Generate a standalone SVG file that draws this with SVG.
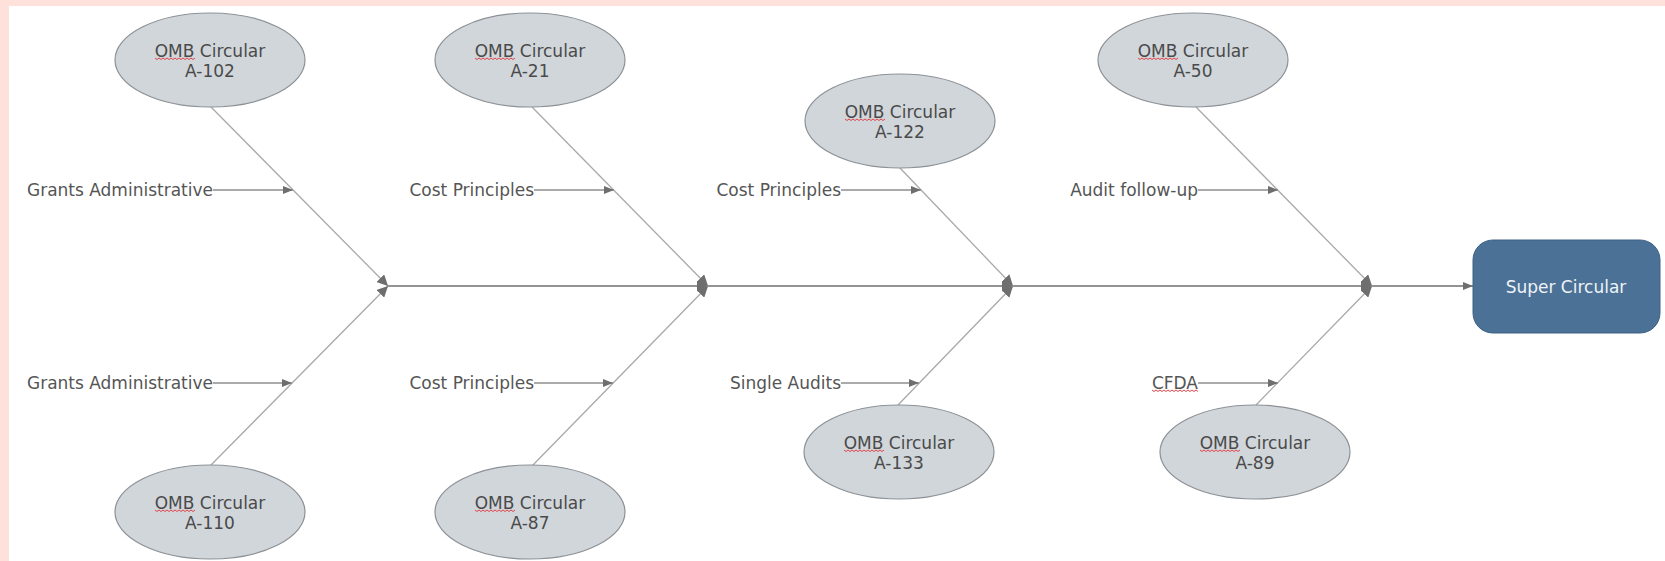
<svg xmlns="http://www.w3.org/2000/svg" width="1665" height="561" viewBox="0 0 1665 561">
  <style>
    .bubble ellipse { fill: #d1d6db; stroke: #8c9196; stroke-width: 1.2; }
    .bubble text { font-family: "DejaVu Sans", Verdana, sans-serif; font-size: 17px; fill: #4a4a4a; text-anchor: middle; }
    .cause text { font-family: "DejaVu Sans", Verdana, sans-serif; font-size: 17px; fill: #555555; text-anchor: end; }
    .bone { stroke: #a9a9a9; stroke-width: 1.3; fill: none; }
    .rib { stroke: #8e8e8e; stroke-width: 1.5; fill: none; }
    .spine { stroke: #939393; stroke-width: 2.2; fill: none; }
    .squiggle { stroke: #e0454a; stroke-width: 1; fill: none; }
    .result rect { fill: #4b7196; stroke: #3f6285; stroke-width: 1; }
    .result text { font-family: "DejaVu Sans", Verdana, sans-serif; font-size: 17px; fill: #eef3f8; text-anchor: middle; }
  </style>
  <defs>
    <marker id="head" viewBox="0 0 10 8" refX="10" refY="4" markerWidth="10" markerHeight="8" markerUnits="userSpaceOnUse" orient="auto">
      <path d="M0 0 L10 4 L0 8 Z" fill="#6e6e6e"/>
    </marker>
    <marker id="head-lg" viewBox="0 0 10 10" refX="10" refY="5" markerWidth="11" markerHeight="11" markerUnits="userSpaceOnUse" orient="auto">
      <path d="M0 0 L10 5 L0 10 Z" fill="#6e6e6e"/>
    </marker>
    <!-- spell-check style wavy underline, 40px and 46px long -->
    <path id="wave40" class="squiggle" d="M0 0 l2 1.5 2 -1.5 2 1.5 2 -1.5 2 1.5 2 -1.5 2 1.5 2 -1.5 2 1.5 2 -1.5 2 1.5 2 -1.5 2 1.5 2 -1.5 2 1.5 2 -1.5 2 1.5 2 -1.5 2 1.5 2 -1.5"/>
    <path id="wave46" class="squiggle" d="M0 0 l2 1.5 2 -1.5 2 1.5 2 -1.5 2 1.5 2 -1.5 2 1.5 2 -1.5 2 1.5 2 -1.5 2 1.5 2 -1.5 2 1.5 2 -1.5 2 1.5 2 -1.5 2 1.5 2 -1.5 2 1.5 2 -1.5 2 1.5 2 -1.5 2 1.5"/>
  </defs>

  <!-- page frame -->
  <rect x="0" y="0" width="1665" height="561" fill="#fde1da"/>
  <rect x="9" y="6" width="1656" height="555" fill="#ffffff"/>

  <!-- connectors -->
  <g id="connectors">
    <!-- main spine -->
    <line class="spine" x1="388" y1="286" x2="708" y2="286" marker-end="url(#head-lg)"/>
    <line class="spine" x1="708" y1="286" x2="1013" y2="286" marker-end="url(#head-lg)"/>
    <line class="spine" x1="1013" y1="286" x2="1372" y2="286" marker-end="url(#head-lg)"/>
    <line class="spine" x1="1372" y1="286" x2="1473" y2="286" marker-end="url(#head)"/>
    <!-- bones -->
    <line class="bone" x1="211" y1="107" x2="388" y2="286" marker-end="url(#head-lg)"/>
    <line class="bone" x1="211" y1="465" x2="388" y2="286" marker-end="url(#head-lg)"/>
    <line class="bone" x1="532" y1="107" x2="708" y2="286" marker-end="url(#head-lg)"/>
    <line class="bone" x1="532" y1="466" x2="708" y2="286" marker-end="url(#head-lg)"/>
    <line class="bone" x1="900" y1="168" x2="1013" y2="286" marker-end="url(#head-lg)"/>
    <line class="bone" x1="898" y1="405" x2="1013" y2="286" marker-end="url(#head-lg)"/>
    <line class="bone" x1="1196" y1="107" x2="1372" y2="286" marker-end="url(#head-lg)"/>
    <line class="bone" x1="1256" y1="405" x2="1372" y2="286" marker-end="url(#head-lg)"/>
    <!-- cause ribs -->
    <line class="rib" x1="213" y1="190" x2="293" y2="190" marker-end="url(#head)"/>
    <line class="rib" x1="213" y1="383" x2="292" y2="383" marker-end="url(#head)"/>
    <line class="rib" x1="534" y1="190" x2="614" y2="190" marker-end="url(#head)"/>
    <line class="rib" x1="534" y1="383" x2="613" y2="383" marker-end="url(#head)"/>
    <line class="rib" x1="841" y1="190" x2="921" y2="190" marker-end="url(#head)"/>
    <line class="rib" x1="841" y1="383" x2="919" y2="383" marker-end="url(#head)"/>
    <line class="rib" x1="1198" y1="190" x2="1278" y2="190" marker-end="url(#head)"/>
    <line class="rib" x1="1198" y1="383" x2="1278" y2="383" marker-end="url(#head)"/>
  </g>

  <!-- circular bubbles -->
  <g id="a102" class="bubble">
    <ellipse cx="210" cy="60" rx="95" ry="47"/>
    <text x="210" y="57">OMB Circular</text>
    <text x="210" y="77">A-102</text>
    <use href="#wave40" x="155" y="58"/>
  </g>
  <g id="a110" class="bubble">
    <ellipse cx="210" cy="512" rx="95" ry="47"/>
    <text x="210" y="509">OMB Circular</text>
    <text x="210" y="529">A-110</text>
    <use href="#wave40" x="155" y="510"/>
  </g>
  <g id="a21" class="bubble">
    <ellipse cx="530" cy="60" rx="95" ry="47"/>
    <text x="530" y="57">OMB Circular</text>
    <text x="530" y="77">A-21</text>
    <use href="#wave40" x="475" y="58"/>
  </g>
  <g id="a87" class="bubble">
    <ellipse cx="530" cy="512" rx="95" ry="47"/>
    <text x="530" y="509">OMB Circular</text>
    <text x="530" y="529">A-87</text>
    <use href="#wave40" x="475" y="510"/>
  </g>
  <g id="a122" class="bubble">
    <ellipse cx="900" cy="121" rx="95" ry="47"/>
    <text x="900" y="118">OMB Circular</text>
    <text x="900" y="138">A-122</text>
    <use href="#wave40" x="845" y="119"/>
  </g>
  <g id="a133" class="bubble">
    <ellipse cx="899" cy="452" rx="95" ry="47"/>
    <text x="899" y="449">OMB Circular</text>
    <text x="899" y="469">A-133</text>
    <use href="#wave40" x="844" y="450"/>
  </g>
  <g id="a50" class="bubble">
    <ellipse cx="1193" cy="60" rx="95" ry="47"/>
    <text x="1193" y="57">OMB Circular</text>
    <text x="1193" y="77">A-50</text>
    <use href="#wave40" x="1138" y="58"/>
  </g>
  <g id="a89" class="bubble">
    <ellipse cx="1255" cy="452" rx="95" ry="47"/>
    <text x="1255" y="449">OMB Circular</text>
    <text x="1255" y="469">A-89</text>
    <use href="#wave40" x="1200" y="450"/>
  </g>

  <!-- cause labels -->
  <g id="cause-grants-top" class="cause"><text x="213" y="196">Grants Administrative</text></g>
  <g id="cause-grants-bottom" class="cause"><text x="213" y="389">Grants Administrative</text></g>
  <g id="cause-cost-1" class="cause"><text x="534" y="196">Cost Principles</text></g>
  <g id="cause-cost-2" class="cause"><text x="534" y="389">Cost Principles</text></g>
  <g id="cause-cost-3" class="cause"><text x="841" y="196">Cost Principles</text></g>
  <g id="cause-single-audits" class="cause"><text x="841" y="389">Single Audits</text></g>
  <g id="cause-audit-followup" class="cause"><text x="1198" y="196">Audit follow-up</text></g>
  <g id="cause-cfda" class="cause">
    <text x="1198" y="389">CFDA</text>
    <use href="#wave46" x="1152" y="390"/>
  </g>

  <!-- outcome -->
  <g id="super-circular" class="result">
    <rect x="1473" y="240" width="187" height="93" rx="20" ry="20"/>
    <text x="1566" y="293">Super Circular</text>
  </g>
</svg>
